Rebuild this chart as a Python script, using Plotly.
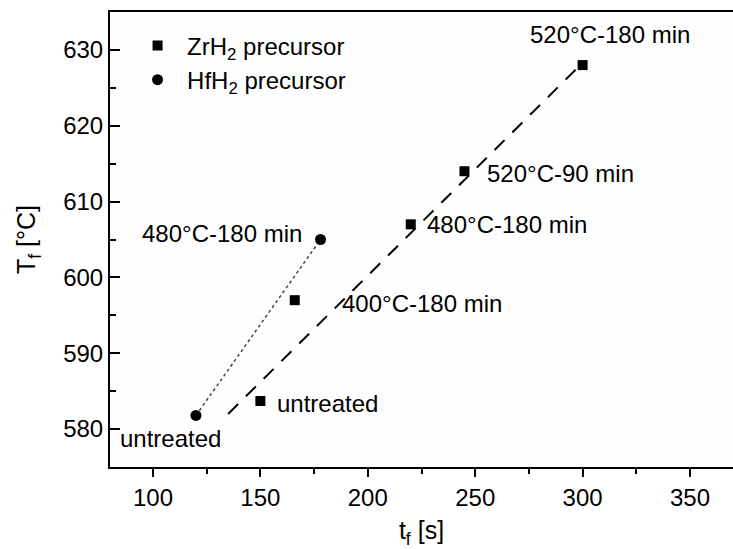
import plotly.graph_objects as go

# Data
zr_t = [150, 166, 220, 245, 300]
zr_T = [583.7, 597.0, 607.0, 614.0, 628.0]
zr_labels = ["untreated", "400°C-180 min", "480°C-180 min", "520°C-90 min", "520°C-180 min"]

hf_t = [120, 178]
hf_T = [581.8, 605.0]
hf_labels = ["untreated", "480°C-180 min"]

fit_t = [135, 300]
fit_T = [582.0, 628.3]

FONT = "Liberation Sans, Arial, sans-serif"
FS = 24

fig = go.Figure()

fig.add_trace(go.Scatter(x=fit_t, y=fit_T, mode="lines",
                         line=dict(color="black", width=2, dash="14px,11px"),
                         showlegend=False, hoverinfo="skip"))
fig.add_trace(go.Scatter(x=hf_t, y=hf_T, mode="lines",
                         line=dict(color="#444444", width=1.5, dash="dot"),
                         showlegend=False, hoverinfo="skip"))
fig.add_trace(go.Scatter(x=zr_t, y=zr_T, mode="markers", name="ZrH<sub>2</sub> precursor",
                         marker=dict(symbol="square", size=10, color="black")))
fig.add_trace(go.Scatter(x=hf_t, y=hf_T, mode="markers", name="HfH<sub>2</sub> precursor",
                         marker=dict(symbol="circle", size=11, color="black")))

# label offsets (pixels) relative to points
zr_off = [(15, -2, "left"), (45, -3, "left"), (14, 0, "left"), (21, -2, "left"), (27, 31, "center")]
hf_off = [(-78, -23, "left"), (-17, 6, "right")]

for xv, yv, lab, (dx, dy, anc) in zip(zr_t, zr_T, zr_labels, zr_off):
    fig.add_annotation(x=xv, y=yv, text=lab, showarrow=False, xshift=dx, yshift=dy,
                       xanchor=anc, yanchor="middle", font=dict(size=FS, color="black", family=FONT))
for xv, yv, lab, (dx, dy, anc) in zip(hf_t, hf_T, hf_labels, hf_off):
    fig.add_annotation(x=xv, y=yv, text=lab, showarrow=False, xshift=dx, yshift=dy,
                       xanchor=anc, yanchor="middle", font=dict(size=FS, color="black", family=FONT))

fig.update_layout(
    width=733, height=549,
    margin=dict(l=110, r=0, t=12, b=82, autoexpand=False),
    plot_bgcolor="#fefefe", paper_bgcolor="#ffffff",
    font=dict(family=FONT, size=FS, color="black"),
    legend=dict(x=0.029, y=0.975, xanchor="left", yanchor="top", itemwidth=49,
                bgcolor="rgba(0,0,0,0)", font=dict(size=FS)),
    xaxis=dict(range=[80, 370], tickmode="linear", tick0=100, dtick=50,
               ticks="outside", ticklen=8, tickwidth=2, tickcolor="black",
               showline=True, linewidth=2, linecolor="black", mirror=True,
               showgrid=False, zeroline=False, automargin=False,
               minor=dict(dtick=25, tick0=100, ticks="outside", ticklen=5, tickwidth=2, tickcolor="black", showgrid=False),
               title=dict(text="t<sub>f</sub> [s]", font=dict(size=FS + 1), standoff=12)),
    yaxis=dict(range=[575, 635], tickmode="linear", tick0=580, dtick=10,
               ticks="inside", ticklen=10, tickwidth=2, tickcolor="black",
               showline=True, linewidth=2, linecolor="black",
               showgrid=False, zeroline=False, automargin=False,
               minor=dict(dtick=5, tick0=580, ticks="inside", ticklen=6, tickwidth=2, tickcolor="black", showgrid=False),
               title=dict(text="T<sub>f</sub> [°C]", font=dict(size=FS + 1), standoff=20)),
)

fig.write_html("out.html", config={"staticPlot": True, "displayModeBar": False},
               post_script="document.body.style.margin='0';document.body.style.overflow='hidden';")
